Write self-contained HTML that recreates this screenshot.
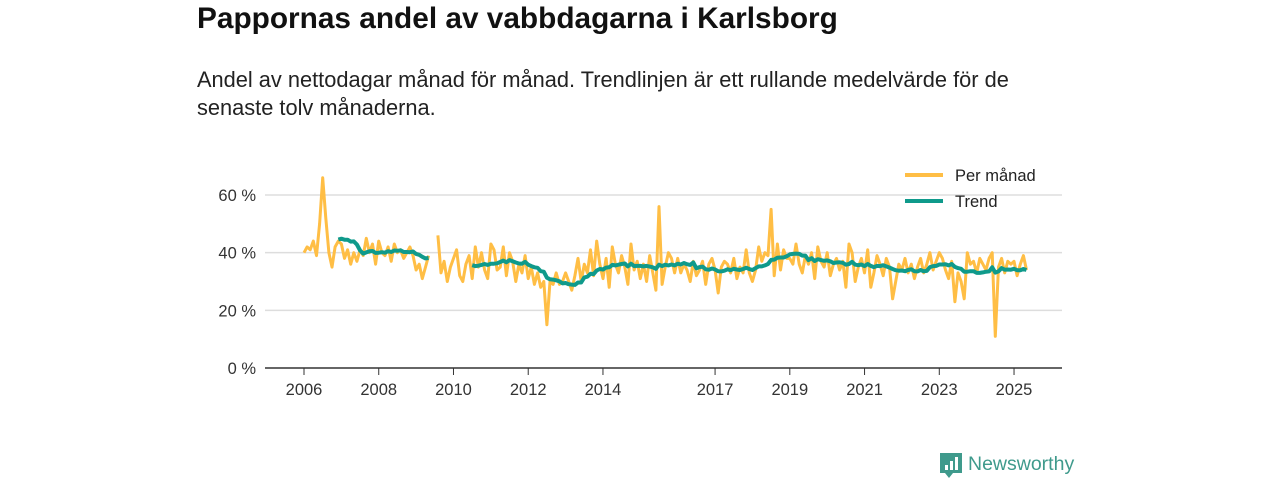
<!DOCTYPE html>
<html><head><meta charset="utf-8"><style>
body{margin:0;width:1280px;height:480px;background:#fff;font-family:"Liberation Sans",sans-serif;position:relative;overflow:hidden}
#title{position:absolute;left:197px;top:2px;font-size:29.8px;font-weight:bold;color:#111;margin:0}
#sub{position:absolute;left:197px;top:66px;font-size:21.8px;line-height:28px;color:#222;width:860px}
svg{position:absolute;left:0;top:0}
</style></head><body>
<h1 id="title">Pappornas andel av vabbdagarna i Karlsborg</h1>
<div id="sub">Andel av nettodagar månad för månad. Trendlinjen är ett rullande medelvärde för de senaste tolv månaderna.</div>
<svg id="chart" width="1280" height="480"></svg>
<script>
const startYear = 2006;
const monthly = [
40,42,41,44,39,50,66,52,40,35,42,44,
43,38,41,36,40,37,41,39,45,40,43,36,
44,40,39,42,37,43,40,41,38,40,42,39,
34,36,31,35,39,null,null,46,33,37,30,35,
38,41,32,30,36,39,31,42,35,40,34,31,
43,41,34,35,42,32,40,37,30,36,33,39,
31,35,29,33,28,30,15,30,29,33,29,30,
33,30,27,32,38,30,36,33,41,32,44,36,
31,38,28,42,36,33,39,35,29,43,34,37,
31,36,30,39,33,27,56,29,35,40,38,33,
38,33,36,34,30,37,32,34,37,29,36,38,
34,26,35,37,36,33,38,31,35,33,41,33,
30,34,42,37,40,39,55,32,43,34,41,38,
38,36,43,36,33,39,36,40,31,42,37,35,
40,32,36,38,34,37,28,43,40,30,35,38,
33,41,28,33,39,36,32,38,35,24,30,36,
34,38,33,36,31,35,38,33,36,40,34,37,
40,38,34,31,37,23,33,30,24,40,36,37,
33,38,36,34,38,40,11,35,38,33,37,36,
37,32,36,39,34];
const xTicks = [2006,2008,2010,2012,2014,2017,2019,2021,2023,2025];
const yTicks = [0,20,40,60];
const yLabels = ["0 %","20 %","40 %","60 %"];

const NS="http://www.w3.org/2000/svg";
const svg=document.getElementById('chart');
const X=t=>304+(t-2006)*37.37;
const Y=v=>368-v*2.883;
function el(tag,attrs){const e=document.createElementNS(NS,tag);for(const k in attrs)e.setAttribute(k,attrs[k]);svg.appendChild(e);return e;}

yTicks.forEach((v,i)=>{
  const g=el('line',{x1:265,x2:1062,y1:Y(v),y2:Y(v),stroke:v===0?'#333':'#ddd','stroke-width':1.5});
  
  
  const t=el('text',{x:256,y:Y(v)+6,'text-anchor':'end','font-size':16.5,fill:'#333'});
  t.textContent=yLabels[i];
  
  
});
xTicks.forEach(yr=>{
  const tk=el('line',{x1:X(yr),x2:X(yr),y1:368,y2:375,stroke:'#333','stroke-width':1});
  
  
  const t=el('text',{x:X(yr),y:395,'text-anchor':'middle','font-size':16.5,fill:'#333'});
  t.textContent=yr;
  
  
});

function pathOf(arr){let d='',pen=false;arr.forEach((v,i)=>{if(v==null){pen=false;return;}const x=X(startYear+i/12),y=Y(v);d+=(pen?'L':'M')+x.toFixed(1)+','+y.toFixed(1);pen=true;});return d;}
const trend=monthly.map((v,i)=>{if(i<11)return null;let s=0;for(let j=i-11;j<=i;j++){if(monthly[j]==null)return null;s+=monthly[j];}return s/12;});

const pm=el('path',{d:pathOf(monthly),fill:'none',stroke:'#FFBE45','stroke-width':3,'stroke-linejoin':'round'});


const tr=el('path',{d:pathOf(trend),fill:'none',stroke:'#0F9A8B','stroke-width':4,'stroke-linejoin':'round'});



[['Per månad','#FFBE45',175],['Trend','#0F9A8B',201]].forEach(([n,c,y])=>{
  const l=el('line',{x1:905,x2:943,y1:y,y2:y,stroke:c,'stroke-width':4});
  
  
  const t=el('text',{x:955,y:y+6,'font-size':16.5,fill:'#222'});
  t.textContent=n;
  
  
});

const ic=el('path',{d:'M940,453 h22 v20 h-9 l-4,5 l-4,-5 h-5 z',fill:'#3f9a8c'});


[[945,465,3,5],[950,461,3,9],[955,457,3,13]].forEach(([x,y,w,h])=>{const b=el('rect',{x:x,y:y,width:w,height:h,fill:'#fff'});});
const lt=el('text',{x:968,y:470,'font-size':19.5,fill:'#3f9a8c'});
lt.textContent='Newsworthy';


</script>
</body></html>
